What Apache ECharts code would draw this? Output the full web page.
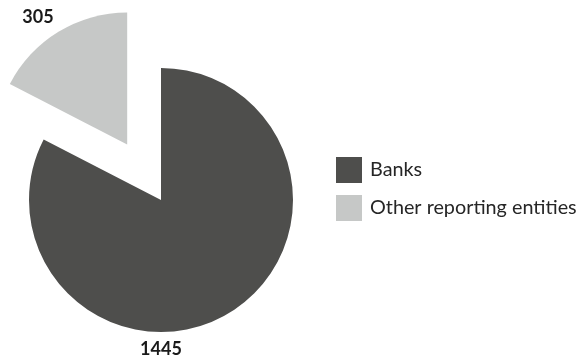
<!DOCTYPE html>
<html>
<head>
<meta charset="utf-8">
<script src="https://cdn.jsdelivr.net/npm/echarts@6/dist/echarts.min.js"></script>
<style>
  html, body { margin: 0; padding: 0; background: #fff; }
  #chart { width: 580px; height: 356px; }
</style>
</head>
<body>
<div id="chart"></div>
<script>
// Reporting entities: count by type
const categories = ['Banks', 'Other reporting entities'];
const values = [1445, 305];
const colors = ['#4e4e4c', '#c6c8c7'];
const explodedIndex = 1;

const CX = 161, CY = 200, R = 132, OFFSET = 65;

const valueFont = {
  fontFamily: 'Lato',
  fontWeight: 'bold',
  fontSize: 18,
  fill: '#1a1a1a'
};

const chart = echarts.init(document.getElementById('chart'), null, { renderer: 'canvas' });

chart.setOption({
  animation: false,
  textStyle: { fontFamily: 'Lato' },
  legend: {
    orient: 'vertical',
    left: 336,
    top: 157,
    padding: 0,
    icon: 'rect',
    itemWidth: 26,
    itemHeight: 26,
    itemGap: 12,
    selectedMode: false,
    data: categories,
    textStyle: { fontFamily: 'Lato', fontSize: 19.8, color: '#262626', padding: [0, 0, 0, 3] }
  },
  // value label of the exploded slice, placed above its outer-left corner
  graphic: [{
    type: 'text',
    x: 38,
    y: 17,
    silent: true,
    style: Object.assign({
      text: String(values[explodedIndex]),
      align: 'center',
      verticalAlign: 'middle'
    }, valueFont)
  }],
  series: [{
    type: 'pie',
    center: [CX, CY],
    radius: [0, R],
    startAngle: 90,
    clockwise: true,
    selectedMode: 'single',
    selectedOffset: OFFSET,
    avoidLabelOverlap: false,
    emphasis: { disabled: true },
    labelLine: { show: false },
    label: {
      show: true,
      position: 'outside',
      formatter: '{c}',
      fontFamily: 'Lato',
      fontWeight: 'bold',
      fontSize: 18,
      color: '#1a1a1a',
      align: 'center'
    },
    labelLayout: function (p) {
      return { x: CX, y: CY + R + 17, align: 'center', verticalAlign: 'middle' };
    },
    data: categories.map((name, i) => ({
      name: name,
      value: values[i],
      selected: i === explodedIndex,
      itemStyle: { color: colors[i] },
      label: { show: i !== explodedIndex }
    }))
  }]
});
</script>
</body>
</html>
